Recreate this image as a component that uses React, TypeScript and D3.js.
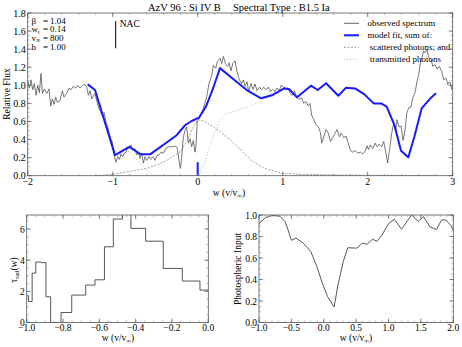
import React from "react";
import * as d3 from "d3";

const FONT = "'Liberation Serif', 'DejaVu Serif', serif";

// ---- top panel: AzV 96, Si IV B ----
// observed spectrum, [w, relative flux]
const observed: [number, number][] = [
  [-2.0, 1.05], [-1.98, 0.97], [-1.961, 1.06], [-1.941, 0.95], [-1.922, 1.02], [-1.902, 0.89],
  [-1.882, 1.0], [-1.863, 0.92], [-1.843, 1.13], [-1.827, 0.91], [-1.804, 0.96], [-1.776, 0.91],
  [-1.749, 0.96], [-1.729, 0.77], [-1.71, 0.85], [-1.69, 0.79], [-1.671, 0.87], [-1.651, 0.81],
  [-1.62, 0.83], [-1.592, 0.94], [-1.573, 0.87], [-1.541, 0.91], [-1.514, 0.97], [-1.49, 0.95],
  [-1.463, 0.99], [-1.435, 0.97], [-1.412, 1.0], [-1.384, 0.97], [-1.357, 1.0], [-1.325, 1.01],
  [-1.306, 0.98], [-1.286, 0.89], [-1.267, 0.94], [-1.247, 0.85], [-1.208, 0.91], [-1.188, 0.83],
  [-1.169, 0.76], [-1.149, 0.72], [-1.129, 0.67], [-1.102, 0.7], [-1.078, 0.59], [-1.051, 0.52],
  [-1.031, 0.43], [-1.004, 0.37], [-0.98, 0.21], [-0.961, 0.15], [-0.941, 0.21], [-0.922, 0.18],
  [-0.902, 0.24], [-0.882, 0.21], [-0.863, 0.25], [-0.843, 0.26], [-0.824, 0.32], [-0.804, 0.3],
  [-0.784, 0.34], [-0.765, 0.28], [-0.737, 0.3], [-0.718, 0.23], [-0.698, 0.26], [-0.678, 0.19],
  [-0.659, 0.25], [-0.639, 0.14], [-0.62, 0.21], [-0.6, 0.17], [-0.573, 0.21], [-0.553, 0.18],
  [-0.529, 0.21], [-0.502, 0.17], [-0.482, 0.22], [-0.455, 0.23], [-0.431, 0.26], [-0.404, 0.25],
  [-0.376, 0.3], [-0.345, 0.32], [-0.318, 0.32], [-0.286, 0.32], [-0.259, 0.33], [-0.239, 0.3],
  [-0.22, 0.17], [-0.204, 0.08], [-0.188, 0.21], [-0.169, 0.43], [-0.149, 0.5], [-0.129, 0.54],
  [-0.11, 0.36], [-0.09, 0.41], [-0.071, 0.32], [-0.051, 0.39], [-0.031, 0.26], [-0.02, 0.34],
  [-0.004, 0.61], [0.016, 0.63], [0.047, 0.7], [0.067, 0.745], [0.106, 0.874], [0.133, 1.02],
  [0.165, 1.11], [0.184, 1.22], [0.212, 1.19], [0.231, 1.26], [0.263, 1.3], [0.282, 1.24],
  [0.302, 1.32], [0.33, 1.23], [0.353, 1.21], [0.37, 1.25], [0.392, 1.16], [0.412, 1.24],
  [0.439, 1.27], [0.463, 1.15], [0.49, 1.06], [0.517, 1.02], [0.537, 1.06], [0.557, 0.99],
  [0.58, 1.04], [0.6, 0.93], [0.627, 1.02], [0.651, 0.955], [0.674, 1.015], [0.698, 0.94],
  [0.725, 0.98], [0.753, 0.949], [0.776, 0.98], [0.804, 0.95], [0.831, 0.98], [0.855, 0.93],
  [0.882, 0.955], [0.91, 0.93], [0.933, 0.97], [0.961, 0.94], [0.98, 1.0], [1.008, 0.98],
  [1.031, 0.95], [1.059, 0.97], [1.09, 0.91], [1.117, 0.89], [1.137, 0.94], [1.165, 0.87],
  [1.196, 0.845], [1.223, 0.86], [1.247, 0.8], [1.274, 0.82], [1.302, 0.77], [1.321, 0.8],
  [1.341, 0.67], [1.365, 0.62], [1.392, 0.56], [1.419, 0.54], [1.443, 0.48], [1.459, 0.36],
  [1.482, 0.43], [1.51, 0.51], [1.537, 0.47], [1.561, 0.38], [1.588, 0.42], [1.616, 0.47],
  [1.639, 0.51], [1.667, 0.43], [1.686, 0.47], [1.718, 0.42], [1.745, 0.44], [1.772, 0.36],
  [1.796, 0.28], [1.823, 0.26], [1.851, 0.28], [1.882, 0.25], [1.914, 0.26], [1.941, 0.24],
  [1.969, 0.27], [1.992, 0.33], [2.008, 0.29], [2.031, 0.34], [2.059, 0.3], [2.086, 0.36],
  [2.11, 0.32], [2.137, 0.35], [2.165, 0.32], [2.188, 0.38], [2.204, 0.3], [2.219, 0.23],
  [2.235, 0.14], [2.259, 0.3], [2.282, 0.47], [2.306, 0.58], [2.329, 0.49], [2.345, 0.62],
  [2.368, 0.54], [2.392, 0.55], [2.416, 0.39], [2.439, 0.5], [2.459, 0.69], [2.482, 0.75],
  [2.51, 0.76], [2.529, 0.86], [2.557, 0.92], [2.58, 1.04], [2.6, 1.12], [2.62, 1.25],
  [2.639, 1.31], [2.659, 1.38], [2.678, 1.36], [2.698, 1.4], [2.717, 1.31], [2.745, 1.29],
  [2.765, 1.21], [2.792, 1.23], [2.816, 1.18], [2.843, 1.21], [2.871, 1.15], [2.894, 1.06],
  [2.922, 1.08], [2.941, 1.01], [2.965, 1.04], [2.988, 0.96], [3.0, 0.99],
];

// model fit (sum of scattered + transmitted)
const modelFit: [number, number][] = [
  [-1.294, 1.01], [-1.208, 0.948], [-0.973, 0.228], [-0.805, 0.32], [-0.67, 0.236], [-0.56, 0.236],
  [-0.247, 0.448], [-0.149, 0.558], [-0.071, 0.605], [0.015, 0.642], [0.098, 0.767], [0.172, 0.943],
  [0.262, 1.19], [0.392, 1.088], [0.588, 0.94], [0.745, 0.856], [0.882, 0.893], [1.019, 0.967],
  [1.078, 0.956], [1.168, 0.867], [1.333, 0.996], [1.412, 0.948], [1.51, 1.022], [1.655, 0.885],
  [1.745, 0.974], [1.851, 0.966], [1.961, 0.9], [2.07, 0.8], [2.157, 0.8], [2.223, 0.764],
  [2.314, 0.561], [2.392, 0.277], [2.478, 0.204], [2.549, 0.431], [2.635, 0.745], [2.745, 0.863],
  [2.804, 0.911],
];

const scattered: [number, number][] = [
  [-1.2, 0.0], [-1.0, 0.015], [-0.88, 0.035], [-0.75, 0.055], [-0.6, 0.08], [-0.48, 0.12],
  [-0.36, 0.17], [-0.2, 0.27], [-0.12, 0.4], [-0.06, 0.52], [0.0, 0.62], [0.08, 0.6],
  [0.184, 0.54], [0.3, 0.46], [0.39, 0.39], [0.51, 0.284], [0.627, 0.17], [0.784, 0.08],
  [0.98, 0.03], [1.2, 0.015], [1.5, 0.01], [2.0, 0.005], [2.8, 0.0],
];

const transmitted: [number, number][] = [
  [-1.294, 1.01], [-1.208, 0.948], [-0.975, 0.21], [-0.9, 0.25], [-0.8, 0.27], [-0.68, 0.14],
  [-0.6, 0.06], [-0.52, 0.01], [-0.4, 0.0], [0.0, 0.0], [0.03, 0.02], [0.1, 0.21], [0.18, 0.43],
  [0.26, 0.61], [0.34, 0.69], [0.39, 0.7], [0.588, 0.76], [0.784, 0.84], [0.9, 0.89], [1.02, 0.96],
];

const nacMarker: [number, number][] = [[0, 0], [0, 0.15]];
const nacLabelLine: [number, number][] = [[-0.965, 1.41], [-0.965, 1.71]];

const fitParams = [
  { sym: "β", sub: "", value: "1.04" },
  { sym: "w", sub: "t", value: "0.14" },
  { sym: "v", sub: "∞", value: "800" },
  { sym: "b", sub: "", value: "1.00" },
];

// ---- bottom left: tau_rad(w) histogram ----
const tauEdges = [-1.0, -0.99, -0.97, -0.95, -0.92, -0.894, -0.868, -0.811, -0.752, -0.675, -0.624,
  -0.572, -0.523, -0.473, -0.426, -0.345, -0.248, -0.143, -0.046, 0.0];
const tauValues = [1.71, 1.35, 3.17, 3.88, 3.84, 1.65, 0, 0.64, 1.76, 2.4, 2.74, 4.86, 6.64, 7.5,
  6.04, 5.22, 3.47, 2.66, 2.08];

// ---- bottom right: photospheric input ----
const photoInput: [number, number][] = [
  [-1.0, 0.92], [-0.9, 0.975], [-0.8, 0.995], [-0.68, 0.99], [-0.6, 0.94], [-0.55, 0.86],
  [-0.5, 0.765], [-0.43, 0.785], [-0.32, 0.74], [-0.2, 0.66], [-0.1, 0.51], [-0.02, 0.36],
  [0.06, 0.24], [0.16, 0.145], [0.22, 0.35], [0.3, 0.565], [0.37, 0.695], [0.51, 0.692],
  [0.595, 0.738], [0.67, 0.728], [0.754, 0.775], [0.82, 0.755], [0.895, 0.81], [1.0, 0.92],
  [1.09, 0.96], [1.2, 0.868], [1.356, 1.0], [1.46, 0.94], [1.54, 0.985], [1.64, 0.89],
  [1.74, 0.865], [1.82, 0.955], [1.89, 0.952], [1.966, 0.9], [2.0, 0.855],
];

const topXTicks = [-2, -1, 0, 1, 2, 3];
const topYTicks = [0, 0.2, 0.4, 0.6, 0.8, 1.0, 1.2, 1.4, 1.6, 1.8];
const tauXTicks = [-1.0, -0.8, -0.6, -0.4, -0.2, 0.0];
const tauYTicks = [0, 2, 4, 6];
const photoXTicks = [-1.0, -0.5, 0.0, 0.5, 1.0, 1.5, 2.0];
const photoYTicks = [0, 0.2, 0.4, 0.6, 0.8, 1.0];

type Lin = d3.ScaleLinear<number, number>;

function Frame({ x, y, xTicks, yTicks, xMinor, yMinor, xFmt, yFmt, fs = 10, xOff = 9.5 }: {
  x: Lin; y: Lin; xTicks: number[]; yTicks: number[]; xMinor: number[]; yMinor: number[];
  xFmt: (v: number) => string; yFmt: (v: number) => string; fs?: number; xOff?: number;
}) {
  const [x0, x1] = x.range();
  const [y0, y1] = y.range();
  const major = 4;
  const minor = 2;
  return (
    <g>
      <rect x={x0} y={y1} width={x1 - x0} height={y0 - y1} fill="none" stroke="#555" strokeWidth={0.8} />
      {xMinor.map((v, i) => (
        <g key={"xm" + i} stroke="#777" strokeWidth={0.5}>
          <line x1={x(v)} x2={x(v)} y1={y0} y2={y0 - minor} />
          <line x1={x(v)} x2={x(v)} y1={y1} y2={y1 + minor} />
        </g>
      ))}
      {yMinor.map((v, i) => (
        <g key={"ym" + i} stroke="#777" strokeWidth={0.5}>
          <line x1={x0} x2={x0 + minor} y1={y(v)} y2={y(v)} />
          <line x1={x1} x2={x1 - minor} y1={y(v)} y2={y(v)} />
        </g>
      ))}
      {xTicks.map((v, i) => (
        <g key={"xt" + i}>
          <line x1={x(v)} x2={x(v)} y1={y0} y2={y0 - major} stroke="#555" strokeWidth={0.7} />
          <line x1={x(v)} x2={x(v)} y1={y1} y2={y1 + major} stroke="#555" strokeWidth={0.7} />
          <text x={x(v)} y={y0 + xOff} textAnchor="middle" fontSize={fs}>{xFmt(v)}</text>
        </g>
      ))}
      {yTicks.map((v, i) => (
        <g key={"yt" + i}>
          <line x1={x0} x2={x0 + major} y1={y(v)} y2={y(v)} stroke="#555" strokeWidth={0.7} />
          <line x1={x1} x2={x1 - major} y1={y(v)} y2={y(v)} stroke="#555" strokeWidth={0.7} />
          <text x={x0 - 2} y={y(v) + 3.5} textAnchor="end" fontSize={fs}>{yFmt(v)}</text>
        </g>
      ))}
    </g>
  );
}

function WLabel({ x, y }: { x: number; y: number }) {
  return (
    <text x={x} y={y} textAnchor="middle" fontSize={9.5}>
      w (v/v<tspan fontSize={6.5} dy={2}>∞</tspan><tspan dy={-2}>)</tspan>
    </text>
  );
}

export default function App() {
  // top panel
  const xT = d3.scaleLinear().domain([-2, 3]).range([27.7, 452.7]);
  const yT = d3.scaleLinear().domain([0, 1.8]).range([175.7, 13]);
  const lineT = d3.line<[number, number]>().x((d) => xT(d[0])).y((d) => yT(d[1]));

  // bottom left
  const xL = d3.scaleLinear().domain([-1, 0]).range([26.7, 208.3]);
  const yL = d3.scaleLinear().domain([0, 6.9]).range([322.5, 215]);
  const tauPts: [number, number][] = tauEdges.map((e, i) => [e, tauValues[Math.min(i, tauValues.length - 1)]]);
  const stepL = d3.line<[number, number]>().x((d) => xL(d[0])).y((d) => yL(d[1])).curve(d3.curveStepAfter);

  // bottom right
  const xR = d3.scaleLinear().domain([-1, 2]).range([259, 453.3]);
  const yR = d3.scaleLinear().domain([0, 1]).range([322.5, 215]);
  const lineR = d3.line<[number, number]>().x((d) => xR(d[0])).y((d) => yR(d[1]));

  const f1 = d3.format(".1f");
  const f0 = d3.format("d");

  const legend = [
    { label: "observed spectrum", stroke: "#555", width: 0.9, dash: "" },
    { label: "model fit, sum of:", stroke: "#1a1aff", width: 2, dash: "" },
    { label: " scattered photons; and", stroke: "#888", width: 0.8, dash: "2,1.5" },
    { label: " transmitted photons", stroke: "#aaa", width: 0.8, dash: "1,2" },
  ];

  return (
    <svg width={462} height={347} style={{ position: "absolute", left: 0, top: 0, background: "#fff" }}
      fontFamily={FONT}>
      <defs>
        <clipPath id="clipTop"><rect x={27.7} y={13} width={425} height={162.7} /></clipPath>
        <clipPath id="clipL"><rect x={26.7} y={215} width={181.6} height={107.5} /></clipPath>
        <clipPath id="clipR"><rect x={259} y={215} width={194.3} height={107.5} /></clipPath>
      </defs>

      {/* ---------- top panel ---------- */}
      <text x={148} y={11} fontSize={10.5}>AzV 96 : Si IV B</text>
      <text x={233} y={11} fontSize={10.5}>Spectral Type : B1.5 Ia</text>
      <g clipPath="url(#clipTop)">
        <path d={lineT(transmitted) || ""} fill="none" stroke="#aaa" strokeWidth={0.8} strokeDasharray="1,2" />
        <path d={lineT(scattered) || ""} fill="none" stroke="#888" strokeWidth={0.8} strokeDasharray="2,1.5" />
        <path d={lineT(observed) || ""} fill="none" stroke="#555" strokeWidth={0.8} />
        <path d={lineT(modelFit) || ""} fill="none" stroke="#1a1aff" strokeWidth={2} strokeLinejoin="round" />
        <path d={lineT(nacMarker) || ""} fill="none" stroke="#1a1aff" strokeWidth={2} />
        <path d={lineT(nacLabelLine) || ""} fill="none" stroke="#000" strokeWidth={1} />
      </g>
      <Frame x={xT} y={yT} xTicks={topXTicks} yTicks={topYTicks}
        xMinor={d3.range(-2, 3.001, 0.2)} yMinor={d3.range(0, 1.801, 0.05)}
        xFmt={f0} yFmt={f1} />
      <text x={xT(-0.965) + 4} y={yT(1.64)} fontSize={9.5}>NAC</text>
      {fitParams.map((p, i) => (
        <g key={p.sym} fontSize={9}>
          <text x={31.5} y={23.5 + i * 8.7}>{p.sym}<tspan fontSize={6} dy={1.5}>{p.sub}</tspan></text>
          <text x={43} y={23.5 + i * 8.7}>=</text>
          <text x={50} y={23.5 + i * 8.7}>{p.value}</text>
        </g>
      ))}
      {legend.map((l, i) => (
        <g key={l.label}>
          <line x1={344} x2={359} y1={23.3 + i * 12} y2={23.3 + i * 12} stroke={l.stroke}
            strokeWidth={l.width} strokeDasharray={l.dash} />
          <text x={367.5} y={26.3 + i * 12} fontSize={9} style={{ whiteSpace: "pre" }}>{l.label}</text>
        </g>
      ))}
      <text transform="translate(10,94) rotate(-90)" textAnchor="middle" fontSize={9.5}>Relative Flux</text>
      <WLabel x={229} y={196} />

      {/* ---------- bottom left ---------- */}
      <g clipPath="url(#clipL)">
        <path d={stepL(tauPts) || ""} fill="none" stroke="#444" strokeWidth={0.9} />
      </g>
      <Frame x={xL} y={yL} xTicks={tauXTicks} yTicks={tauYTicks}
        xMinor={d3.range(-1, 0.001, 0.05)} yMinor={d3.range(0, 6.9, 0.5)}
        xFmt={f1} yFmt={f0} fs={9.5} xOff={8} />
      <text transform="translate(17,270) rotate(-90)" textAnchor="middle" fontSize={9.5}>
        τ<tspan fontSize={6.5} dy={2}>rad</tspan><tspan dy={-2}>(w)</tspan>
      </text>
      <WLabel x={118} y={341} />

      {/* ---------- bottom right ---------- */}
      <g clipPath="url(#clipR)">
        <path d={lineR(photoInput) || ""} fill="none" stroke="#444" strokeWidth={0.9} />
      </g>
      <Frame x={xR} y={yR} xTicks={photoXTicks} yTicks={photoYTicks}
        xMinor={d3.range(-1, 2.001, 0.1)} yMinor={d3.range(0, 1.001, 0.05)}
        xFmt={f1} yFmt={f1} fs={9.5} xOff={8} />
      <text transform="translate(241,269) rotate(-90)" textAnchor="middle" fontSize={9.5}>Photospheric Input</text>
      <WLabel x={356} y={341} />
    </svg>
  );
}
